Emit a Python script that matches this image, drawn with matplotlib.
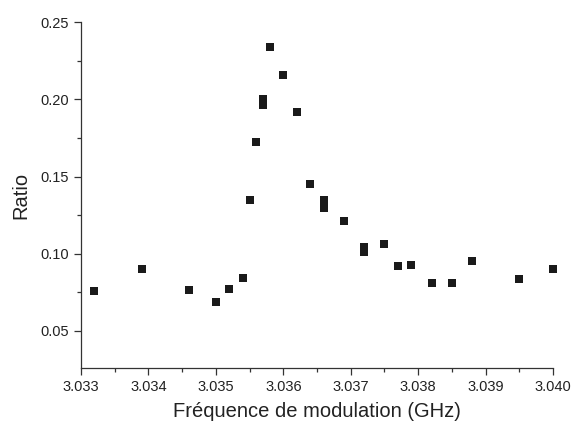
import matplotlib
matplotlib.use("Agg")
import matplotlib.pyplot as plt
from matplotlib.ticker import MultipleLocator, FormatStrFormatter

plt.rcParams['font.family'] = ['Liberation Sans', 'DejaVu Sans']

# frequency (GHz) and measured ratio
freq = [3.0332, 3.0339, 3.0346, 3.0350, 3.0352, 3.0354, 3.0355, 3.0356,
        3.0357, 3.0357, 3.0358, 3.0360, 3.0362, 3.0364, 3.0366, 3.0366,
        3.0369, 3.0372, 3.0372, 3.0375, 3.0377, 3.0379, 3.0382, 3.0385,
        3.0388, 3.0395, 3.0400]
ratio = [0.0760, 0.0898, 0.0764, 0.0684, 0.0773, 0.0844, 0.1347, 0.1723,
         0.2000, 0.1966, 0.2340, 0.2157, 0.1919, 0.1451, 0.1347, 0.1299,
         0.1211, 0.1043, 0.1008, 0.1062, 0.0922, 0.0928, 0.0812, 0.0810,
         0.0950, 0.0836, 0.0902]

fig = plt.figure(figsize=(5.72, 4.26), dpi=100)
ax = fig.add_axes([0.1415, 0.1355, 0.8255, 0.812])

ax.scatter(freq, ratio, marker='s', s=30, color='#1a1a1a', linewidths=0,
           zorder=3, clip_on=False)

ax.set_xlim(3.033, 3.040)
ax.set_ylim(0.0257, 0.25)
ax.xaxis.set_major_locator(MultipleLocator(0.001))
ax.xaxis.set_minor_locator(MultipleLocator(0.0005))
ax.yaxis.set_major_locator(MultipleLocator(0.05))
ax.yaxis.set_minor_locator(MultipleLocator(0.025))
ax.xaxis.set_major_formatter(FormatStrFormatter('%.3f'))
ax.yaxis.set_major_formatter(FormatStrFormatter('%.2f'))

ax.spines['top'].set_visible(False)
ax.spines['right'].set_visible(False)
for s in ['left', 'bottom']:
    ax.spines[s].set_color('#333333')
    ax.spines[s].set_linewidth(0.9)

ax.tick_params(which='major', direction='out', length=5, width=0.9,
               color='#333333', labelsize=10.5, labelcolor='#222222')
ax.tick_params(which='minor', direction='out', length=3, width=0.9, color='#333333')

ax.set_xlabel('Fréquence de modulation (GHz)', fontsize=14.5, color='#222222', labelpad=6)
ax.set_ylabel('Ratio', fontsize=14.5, color='#222222', labelpad=7)

fig.savefig('out.png', dpi=100)
